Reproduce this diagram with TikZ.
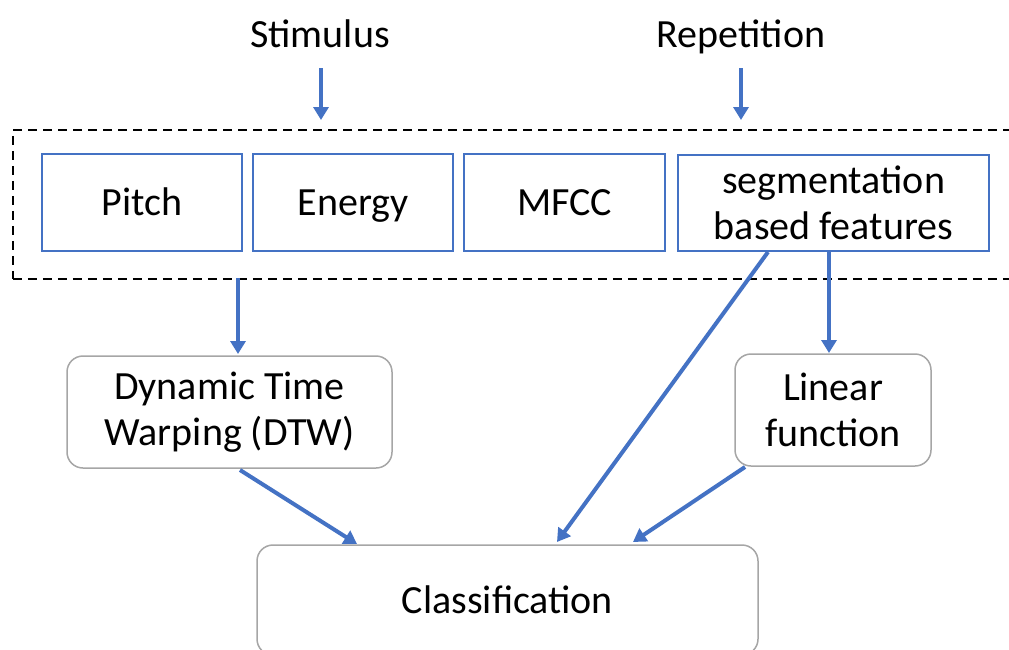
\documentclass[tikz,border=0pt]{standalone}
\usepackage{fontspec}
\setmainfont{Carlito}
\usetikzlibrary{arrows.meta,calc}
\definecolor{accblue}{HTML}{4472C4}
\definecolor{boxgray}{HTML}{A6A6A6}
\begin{document}
\begin{tikzpicture}[x=1pt,y=-1pt,
  lbl/.style={font=\fontsize{40}{46}\selectfont, inner sep=0pt, align=center},
  onel/.style={text height=26pt, text depth=0pt},
  featbox/.style={lbl, draw=accblue, line width=1.5pt},
  procbox/.style={lbl, draw=boxgray, line width=1.5pt, rounded corners=16pt},
  flow/.style={draw=accblue, line width=4pt, -{Triangle[length=13pt,width=15pt]}},
  grp/.style={draw=black, line width=1.5pt, dash pattern=on 9pt off 6pt}]
\useasboundingbox (0,0) rectangle (1009,649);
\fill[white] (0,0) rectangle (1009,649);
% group dashed box (right side beyond the picture)
\node[grp, minimum width=1040pt, minimum height=149pt, anchor=north west, inner sep=0pt] (group) at (12,129) {};
% titles
\node[lbl, anchor=base] (stim) at (320,47) {Stimulus};
\node[lbl, anchor=base] (rep) at (741,47) {Repetition};
% feature boxes
\node[featbox, onel, minimum width=200pt, minimum height=97pt] (pitch) at (142,202.5) {Pitch};
\node[featbox, onel, minimum width=200pt, minimum height=97pt] (energy) at (353,202.5) {Energy};
\node[featbox, onel, minimum width=201pt, minimum height=97pt] (mfcc) at (564.5,202.5) {MFCC};
\node[featbox, minimum width=311pt, minimum height=96pt] (seg) at (833.5,203) {segmentation\\based features};
% processing boxes
\node[procbox, minimum width=325pt, minimum height=112pt] (dtw) at (229.5,412) {Dynamic Time\\Warping (DTW)};
\node[procbox, minimum width=196pt, minimum height=112pt] (lin) at (833,410) {Linear\\function};
\node[procbox, onel, minimum width=501pt, minimum height=110pt] (cls) at (507.5,600) {Classification};
% connector coordinates
\coordinate (s1) at (321,68);  \coordinate (s2) at (321,120);
\coordinate (r1) at (741,68);  \coordinate (r2) at (741,120);
\coordinate (p1) at (238,278); \coordinate (p2) at (238,354);
\coordinate (l1) at (829,251); \coordinate (l2) at (829,353);
\coordinate (g1) at (768,252); \coordinate (g2) at (557,542);
\coordinate (d1) at (240,470); \coordinate (d2) at (357,544);
\coordinate (f1) at (745,467); \coordinate (f2) at (633,542);
\draw[flow] (s1) -- (s2);
\draw[flow] (r1) -- (r2);
\draw[flow] (p1) -- (p2);
\draw[flow] (l1) -- (l2);
\draw[flow] (g1) -- (g2);
\draw[flow] (d1) -- (d2);
\draw[flow] (f1) -- (f2);
\end{tikzpicture}
\end{document}
